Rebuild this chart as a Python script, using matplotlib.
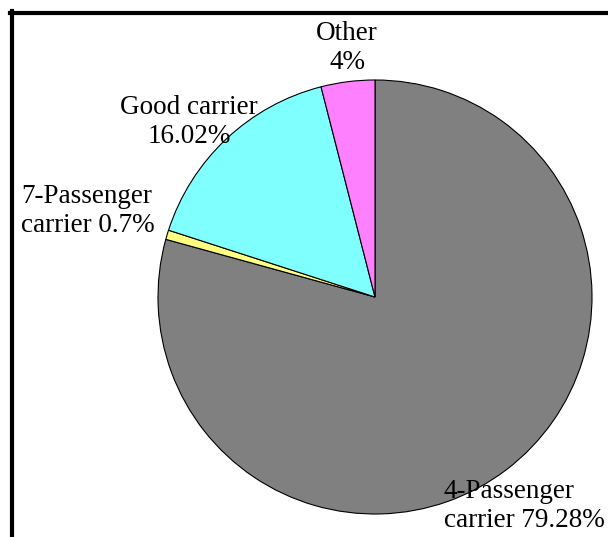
import matplotlib.pyplot as plt
from matplotlib.lines import Line2D

# slice data, clockwise from 12 o'clock
labels = ['4-Passenger', '7-Passenger', 'Good carrier', 'Other']
shares = [79.28, 0.7, 16.02, 4.0]
colors = ['#808080', '#FFFF80', '#80FFFF', '#FF80FF']
label_texts = ['4-Passenger\ncarrier 79.28%', '7-Passenger\ncarrier 0.7%',
               'Good carrier\n16.02%', 'Other\n4%']

W, H = 608, 537
fig = plt.figure(figsize=(W / 100, H / 100), dpi=100)
ax = fig.add_axes([0, 0, 1, 1])

cx, cy, r = 375, H - 297, 217
ax.pie(shares, colors=colors, startangle=90, counterclock=False,
       center=(cx, cy), radius=r, frame=True,
       wedgeprops=dict(edgecolor='black', linewidth=0.8))
ax.set_xlim(0, W)
ax.set_ylim(0, H)
ax.set_aspect('equal')
ax.axis('off')

font = dict(family='Liberation Serif', fontsize=19.5, linespacing=1.25)
ax.text(444, H - 506, label_texts[0], ha='left', va='center', **font)
ax.text(21, H - 211, label_texts[1], ha='left', va='center', **font)
ax.text(189, H - 122, label_texts[2], ha='center', va='center', **font)
ax.text(347, H - 48, label_texts[3], ha='center', va='center', **font)

# frame lines (top and left only)
fig.add_artist(Line2D([10 / W, 1], [1 - 13 / H, 1 - 13 / H], color='black', linewidth=3))
fig.add_artist(Line2D([12 / W, 12 / W], [0, 1 - 11 / H], color='black', linewidth=3))

plt.savefig('out.png', dpi=100)
